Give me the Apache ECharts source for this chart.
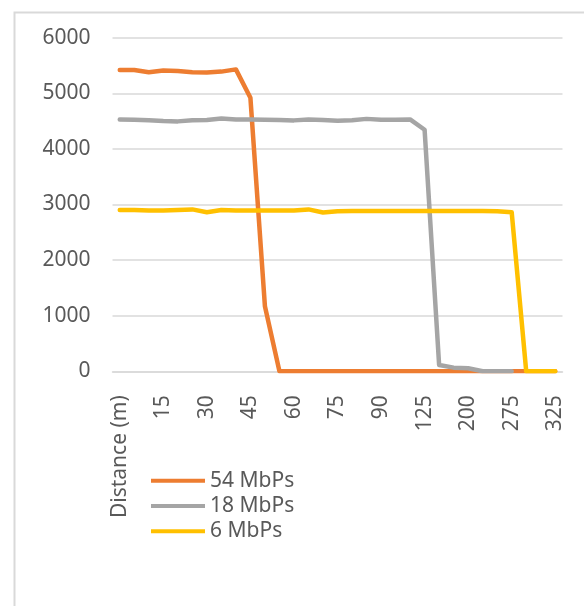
<!DOCTYPE html>
<html>
<head>
<meta charset="utf-8">
<script src="https://cdn.jsdelivr.net/npm/echarts@6/dist/echarts.min.js"></script>
<style>
  html, body { margin: 0; padding: 0; background: #ffffff; }
  #chart { width: 584px; height: 606px; }
</style>
</head>
<body>
<div id="chart"></div>
<script>
// Category axis: the first entry is the column header, the rest are distances in metres
const categories = ['Distance (m)', '5', '10', '15', '20', '25', '30', '35', '40', '45', '50',
  '55', '60', '65', '70', '75', '80', '85', '90', '100', '110',
  '125', '150', '175', '200', '225', '250', '275', '290', '310', '325'];

// Throughput readings per data rate
const rate54 = [5420, 5420, 5380, 5410, 5400, 5380, 5375, 5390, 5430, 4920, 1170,
  0, 0, 0, 0, 0, 0, 0, 0, 0, 0, 0, 0, 0, 0, 0, 0, 0, 0, 0, 0];
const rate18 = [4530, 4525, 4515, 4500, 4495, 4515, 4520, 4545, 4530, 4530, 4525,
  4520, 4513, 4530, 4520, 4505, 4515, 4540, 4525, 4525, 4530,
  4345, 114, 66, 54, 0, 0, 0, null, null, null];
const rate6 = [2900, 2900, 2890, 2890, 2900, 2912, 2860, 2900, 2890, 2890, 2890,
  2890, 2890, 2912, 2855, 2880, 2885, 2885, 2885, 2885, 2885,
  2885, 2885, 2885, 2885, 2885, 2880, 2860, 0, 0, 0];

const seriesNames = ['54 MbPs', '18 MbPs', '6 MbPs'];
const yTicks = { min: 0, max: 6000, step: 1000 };

const textColor = '#595959';
const gridColor = '#d9d9d9';
const fontFamily = '"Noto Sans", "Open Sans", sans-serif';

function lineSeries(name, data, color) {
  return {
    name: name,
    type: 'line',
    data: data,
    showSymbol: false,
    symbol: 'none',
    connectNulls: false,
    lineStyle: { color: color, width: 4.5, cap: 'round', join: 'round' },
    itemStyle: { color: color },
    emphasis: { disabled: true },
    animation: false
  };
}

const chart = echarts.init(document.getElementById('chart'), null, { renderer: 'canvas' });
chart.setOption({
  backgroundColor: '#ffffff',
  animation: false,
  graphic: [{
    type: 'rect',
    left: 12, top: 10,
    shape: { width: 620, height: 640 },
    style: { fill: 'none', stroke: gridColor, lineWidth: 2 },
    silent: true, z: -10
  }],
  grid: { left: 112.5, right: 21.5, top: 37.7, bottom: 234.7, containLabel: false },
  legend: {
    orient: 'vertical',
    left: 151, top: 468,
    itemWidth: 54, itemHeight: 4,
    itemGap: 0,
    icon: 'rect',
    padding: 0,
    textStyle: { color: textColor, fontSize: 21, fontFamily: fontFamily, lineHeight: 25.3, padding: [0, 0, 0, 0] },
    data: seriesNames
  },
  xAxis: {
    type: 'category',
    data: categories,
    boundaryGap: true,
    axisLine: { show: true, lineStyle: { color: gridColor, width: 1.5 } },
    axisTick: { show: false },
    axisLabel: {
      interval: 2,
      rotate: 90,
      margin: 24,
      color: textColor,
      fontSize: 21,
      fontFamily: fontFamily
    },
    splitLine: { show: false }
  },
  yAxis: {
    type: 'value',
    min: yTicks.min, max: yTicks.max, interval: yTicks.step,
    axisLine: { show: false },
    axisTick: { show: false },
    axisLabel: {
      color: textColor, fontSize: 21, fontFamily: fontFamily, margin: 22,
      formatter: function (v) { return String(v); }
    },
    splitLine: { show: true, lineStyle: { color: gridColor, width: 1.5 } }
  },
  series: [
    lineSeries(seriesNames[0], rate54, '#ED7D31'),
    lineSeries(seriesNames[1], rate18, '#A5A5A5'),
    lineSeries(seriesNames[2], rate6, '#FFC000')
  ]
});
</script>
</body>
</html>
